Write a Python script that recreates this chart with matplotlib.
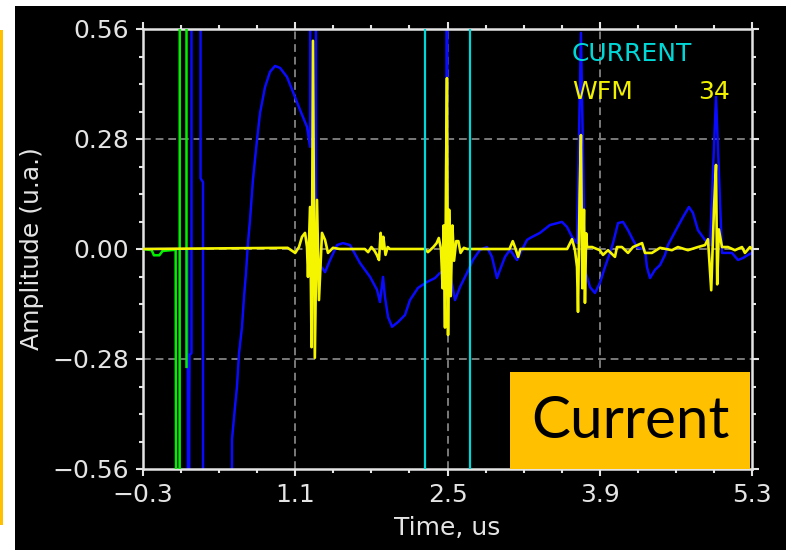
import numpy as np
import matplotlib
matplotlib.use("Agg")
import matplotlib.pyplot as plt
from matplotlib.ticker import MultipleLocator
from matplotlib.patches import Rectangle

# datos de la captura (tiempo en us, amplitud en u.a.)
# los valores 3.0 / -3.0 son trazos que salen de la pantalla
blue_t = [-0.3, 0.11, 0.125, 0.125, 0.128, 0.146, 0.146, 0.229, 0.229, 0.252, 0.252, 0.50,
          0.518, 0.546, 0.564, 0.583, 0.610, 0.629, 0.647, 0.665, 0.684, 0.711, 0.748, 0.776,
          0.822, 0.868, 0.914, 0.960, 1.024, 1.079, 1.144, 1.208, 1.236, 1.25, 1.29, 1.29,
          1.328, 1.374, 1.420, 1.484, 1.539, 1.604, 1.696, 1.788, 1.852, 1.879, 1.907, 1.925,
          1.953, 1.990, 2.045, 2.109, 2.155, 2.229, 2.311, 2.385, 2.431, 2.49, 2.495, 2.50,
          2.515, 2.569, 2.615, 2.679, 2.734, 2.799, 2.863, 2.909, 2.955, 2.983, 3.029, 3.075,
          3.139, 3.185, 3.231, 3.259, 3.350, 3.442, 3.553, 3.599, 3.645, 3.691, 3.727, 3.764,
          3.810, 3.856, 3.902, 3.948, 3.994, 4.022, 4.068, 4.114, 4.160, 4.206, 4.242, 4.316,
          4.334, 4.362, 4.408, 4.454, 4.500, 4.527, 4.610, 4.665, 4.720, 4.757, 4.803, 4.868,
          4.914, 4.969, 5.024, 5.116, 5.171, 5.217, 5.263, 5.30]
blue_v = [0.0, 0.0, -3.0, -0.42, -0.27, -0.265, 3.0, 3.0, 0.18, 0.17, -3.0, -3.0,
          -0.486, -0.402, -0.351, -0.265, -0.199, -0.122, -0.061, 0.015, 0.074, 0.176, 0.277, 0.346,
          0.412, 0.451, 0.466, 0.461, 0.438, 0.400, 0.354, 0.311, 0.260, 3.0, 3.0, -0.04,
          -0.041, -0.059, -0.028, 0.010, 0.015, 0.010, -0.036, -0.071, -0.104, -0.135, -0.071, -0.122,
          -0.173, -0.198, -0.186, -0.168, -0.130, -0.099, -0.084, -0.074, -0.061, -0.05, 3.0, 0.15,
          -0.05, -0.130, -0.097, -0.061, -0.028, -0.002, 0.005, -0.020, -0.074, -0.053, -0.020, -0.002,
          -0.028, -0.002, 0.023, 0.028, 0.041, 0.061, 0.069, 0.056, 0.031, 0.015, 0.550, -0.053,
          -0.097, -0.112, -0.086, -0.046, -0.010, 0.015, 0.066, 0.069, 0.048, 0.023, 0.005, -0.003,
          -0.046, -0.074, -0.053, -0.041, -0.015, 0.010, 0.053, 0.081, 0.107, 0.092, 0.048, 0.023,
          0.010, 0.387, -0.010, -0.010, -0.028, -0.023, -0.015, -0.010]

yellow_t = [-0.3, 1.03, 1.10, 1.134, 1.162, 1.19, 1.208, 1.217, 1.236, 1.25, 1.263, 1.28,
            1.30, 1.318, 1.346, 1.374, 1.401, 1.447, 1.51, 1.74, 1.77, 1.80, 1.83, 1.85,
            1.87, 1.885, 1.90, 1.91, 1.93, 1.95, 1.97, 2.29, 2.32, 2.37, 2.40, 2.42,
            2.44, 2.455, 2.465, 2.477, 2.487, 2.495, 2.505, 2.515, 2.53, 2.545, 2.56, 2.58,
            2.60, 2.62, 2.65, 2.68, 3.07, 3.10, 3.12, 3.15, 3.17, 3.53, 3.60, 3.645,
            3.672, 3.691, 3.70, 3.715, 3.727, 3.74, 3.755, 3.764, 3.775, 3.783, 3.83, 3.90,
            3.93, 3.976, 4.04, 4.058, 4.104, 4.16, 4.206, 4.289, 4.316, 4.38, 4.454, 4.564,
            4.619, 4.711, 4.803, 4.868, 4.895, 4.925, 4.95, 4.969, 4.98, 4.995, 5.024, 5.079,
            5.143, 5.208, 5.235, 5.281, 5.30]
yellow_v = [0.0, 0.003, -0.010, 0.005, 0.031, 0.041, 0.005, -0.071, 0.107, -0.25, 0.53, -0.277,
            0.125, -0.13, 0.041, 0.023, -0.010, 0.003, 0.0, 0.0, -0.008, 0.005, -0.005, -0.015,
            -0.028, 0.041, 0.0, 0.031, -0.015, 0.005, 0.0, 0.0, -0.008, 0.005, 0.015, 0.028,
            0.0, -0.10, 0.06, -0.20, 0.20, 0.435, -0.219, 0.10, -0.12, 0.06, -0.03, 0.02,
            0.02, -0.01, 0.003, 0.0, 0.0, 0.02, 0.005, -0.02, 0.0, 0.0, 0.0, 0.025,
            -0.003, -0.046, -0.16, 0.14, 0.29, -0.10, 0.10, -0.137, 0.04, 0.005, 0.005, -0.003,
            -0.015, -0.003, -0.02, 0.005, 0.005, -0.01, 0.005, 0.015, -0.01, -0.01, 0.003, -0.003,
            0.005, -0.003, 0.005, 0.01, 0.025, -0.105, 0.10, 0.214, -0.09, 0.05, 0.005, 0.005,
            -0.003, 0.005, -0.01, 0.005, 0.0]

green_t = [-0.3, -0.22, -0.20, -0.15, -0.12, 0.0, 0.02, 0.035, 0.04, 0.10, 0.10]
green_v = [0.0, -0.003, -0.016, -0.016, -0.005, -0.002, -3.0, -3.0, 3.0, 3.0, -0.30]

# cursores verticales (cian)
cursor_t = [2.293, 2.707]

x_ticks = [-0.3, 1.1, 2.5, 3.9, 5.3]
x_labels = ["\u22120.3", "1.1", "2.5", "3.9", "5.3"]
y_ticks = [-0.56, -0.28, 0.0, 0.28, 0.56]
y_labels = ["\u22120.56", "\u22120.28", "0.00", "0.28", "0.56"]

fig = plt.figure(figsize=(7.86, 5.5), dpi=100, facecolor="white")

# fondo negro de la pantalla y barra naranja a la izquierda
fig.patches.append(Rectangle((15 / 786, 0), 1 - 15 / 786, 544 / 550, transform=fig.transFigure,
                             facecolor="black", edgecolor="none", zorder=-10))
fig.patches.append(Rectangle((0, 25 / 550), 3 / 786, 495 / 550, transform=fig.transFigure,
                             facecolor="#ffc000", edgecolor="none", zorder=-10))

ax = fig.add_axes([143 / 786, 81 / 550, 609 / 786, 440 / 550])
ax.set_facecolor("black")

fg = "#e4e4e4"
ax.set_xlim(-0.3, 5.3)
ax.set_ylim(-0.56, 0.56)
ax.set_xticks(x_ticks)
ax.set_xticklabels(x_labels)
ax.set_yticks(y_ticks)
ax.set_yticklabels(y_labels)
ax.xaxis.set_minor_locator(MultipleLocator(0.35, offset=-0.3))
ax.yaxis.set_minor_locator(MultipleLocator(0.07))
ax.tick_params(which="both", direction="out", top=True, right=True, colors=fg,
               labelsize=18, width=1.5)
ax.tick_params(which="major", length=5, pad=5)
ax.tick_params(which="minor", length=3)
for s in ax.spines.values():
    s.set_color(fg)
    s.set_linewidth(1.8)

# rejilla punteada solo en las divisiones interiores
for xv in x_ticks[1:-1]:
    ax.axvline(xv, color="#7a7a7a", linestyle=(0, (4, 2.5)), linewidth=1.4, zorder=1)
for yv in y_ticks[1:-1]:
    ax.axhline(yv, color="#7a7a7a", linestyle=(0, (4, 2.5)), linewidth=1.4, zorder=1)

ax.plot(blue_t, blue_v, color="#0a0aff", linewidth=1.8, zorder=2)
ax.plot(green_t, green_v, color="#00f000", linewidth=1.8, zorder=3)
ax.plot(yellow_t, yellow_v, color="#f5f500", linewidth=1.9, zorder=4)
for c in cursor_t:
    ax.axvline(c, color="#00d8d8", linewidth=1.6, zorder=5)

ax.set_xlabel("Time, us", color=fg, fontsize=18, va="center")
ax.xaxis.set_label_coords(0.5, -0.134)
ax.set_ylabel("Amplitude (u.a.)", color=fg, fontsize=18, va="center")
ax.yaxis.set_label_coords(-0.182, 0.5)

# leyenda del osciloscopio
ax.text(0.704, 0.943, "CURRENT", color="#00d8d8", fontsize=18, va="center", ha="left",
        transform=ax.transAxes)
ax.text(0.704, 0.857, "WFM", color="#f0f000", fontsize=18, va="center", ha="left",
        transform=ax.transAxes)
ax.text(0.964, 0.857, "34", color="#f0f000", fontsize=18, va="center", ha="right",
        transform=ax.transAxes)

# etiqueta naranja
fig.patches.append(Rectangle((510 / 786, 81 / 550), 240 / 786, 97 / 550, transform=fig.transFigure,
                             facecolor="#ffc000", edgecolor="none", zorder=10))
fig.text(630 / 786, 1 - 421 / 550, "Current", fontsize=42, family="Lato", color="black",
         ha="center", va="center", zorder=11)

fig.savefig("out.png", dpi=100, facecolor=fig.get_facecolor())
